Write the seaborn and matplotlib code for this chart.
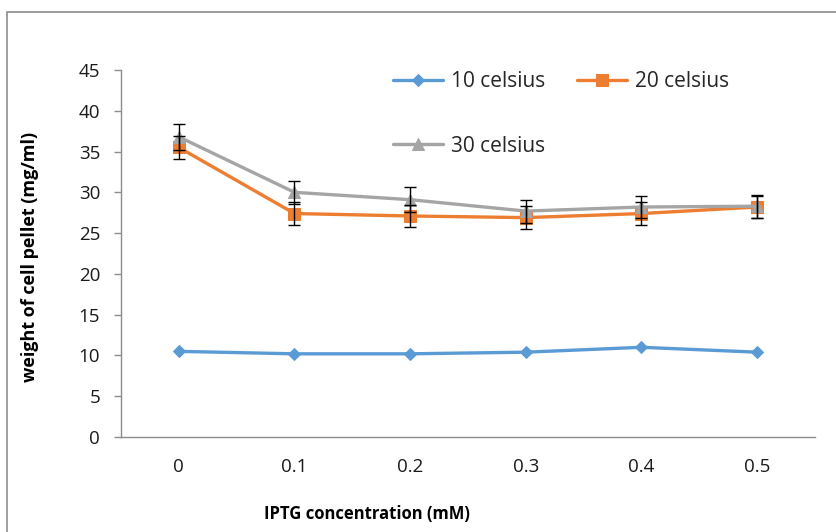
import matplotlib
matplotlib.use("Agg")
import matplotlib.pyplot as plt
import seaborn as sns
import pandas as pd
from matplotlib.patches import Rectangle
from matplotlib.ticker import FixedLocator

# ---- data ----
concentrations = ["0", "0.1", "0.2", "0.3", "0.4", "0.5"]
series_names = ["10 celsius", "20 celsius", "30 celsius"]
c10 = [10.5, 10.2, 10.2, 10.4, 11.0, 10.4]
c20 = [35.5, 27.4, 27.1, 26.9, 27.4, 28.2]
c30 = [36.8, 30.0, 29.1, 27.7, 28.2, 28.3]
err20 = [1.4, 1.4, 1.3, 1.4, 1.4, 1.4]
err30 = [1.6, 1.4, 1.5, 1.4, 1.3, 1.4]
y_ticks = [0, 5, 10, 15, 20, 25, 30, 35, 40, 45]

colors = {"10 celsius": "#5B9BD5", "20 celsius": "#ED7D31", "30 celsius": "#A5A5A5"}
markers = {"10 celsius": "D", "20 celsius": "s", "30 celsius": "^"}
msizes = {"10 celsius": 6, "20 celsius": 8.5, "30 celsius": 9}

rows = []
for name, vals in zip(series_names, [c10, c20, c30]):
    for c, v in zip(concentrations, vals):
        rows.append({"conc": c, "weight": v, "series": name})
df = pd.DataFrame(rows)

sns.set_theme(style="white")
plt.rcParams["font.family"] = ["Open Sans", "DejaVu Sans"]

fig = plt.figure(figsize=(8.37, 5.32), dpi=100)
ax = fig.add_axes([121/837, 1-437/532, (815-121)/837, (437-70)/532])

for name in series_names:
    sub = df[df["series"] == name]
    sns.lineplot(data=sub, x="conc", y="weight", ax=ax, color=colors[name],
                 marker=markers[name], markersize=msizes[name],
                 markeredgecolor=colors[name], linewidth=2.4, label=name,
                 sort=False, zorder=2)

ax.errorbar(concentrations, c20, yerr=err20, fmt="none", ecolor="black",
            elinewidth=1, capsize=4.5, capthick=1, zorder=3)
ax.errorbar(concentrations, c30, yerr=err30, fmt="none", ecolor="black",
            elinewidth=1, capsize=4.5, capthick=1, zorder=3)

ax.set_xlim(-0.5, len(concentrations) - 0.5)
ax.set_ylim(0, 45)
ax.set_yticks(y_ticks)
ax.set_yticklabels([str(t) for t in y_ticks])
ax.set_xticks(range(len(concentrations)))
ax.set_xticklabels(concentrations)
ax.xaxis.set_minor_locator(FixedLocator([i - 0.5 for i in range(len(concentrations) + 1)]))

axis_col = "#8C8C8C"
for s in ["top", "right"]:
    ax.spines[s].set_visible(False)
for s in ["left", "bottom"]:
    ax.spines[s].set_color(axis_col)
    ax.spines[s].set_linewidth(1.0)

ax.tick_params(axis="x", which="major", length=0, pad=15, labelsize=13.5, colors="#1a1a1a")
ax.tick_params(axis="x", which="minor", length=5, width=1, color=axis_col, direction="out")
ax.tick_params(axis="y", which="major", length=5, width=1, color=axis_col, direction="out",
               pad=10, labelsize=13.5, labelcolor="#1a1a1a", left=True)
ax.grid(False)

ax.set_xlabel("IPTG concentration (mM)", fontsize=12, fontweight="bold", color="black")
ax.set_ylabel("weight of cell pellet (mg/ml)", fontsize=13, fontweight="bold", color="black")
ax.xaxis.set_label_coords((367-121)/694, -0.185)
ax.yaxis.set_label_coords(-0.118, 0.49)

handles, labels = ax.get_legend_handles_labels()
order = [0, 2, 1]
leg = ax.legend([handles[i] for i in order], [labels[i] for i in order], ncol=2,
                loc="upper left", bbox_to_anchor=((393-121)/694, 1-(71-70)/367),
                frameon=False, fontsize=15, handlelength=2.4, handletextpad=0.4,
                labelspacing=2.1, columnspacing=1.5, borderaxespad=0, borderpad=0)

# outer chart frame
fig.add_artist(Rectangle((7.5/837, -0.1), 1.2, 1 - 12/532 + 0.1, transform=fig.transFigure,
                         fill=False, edgecolor="#8C8C8C", linewidth=1.2, clip_on=False))

fig.savefig("out.png", dpi=100)
